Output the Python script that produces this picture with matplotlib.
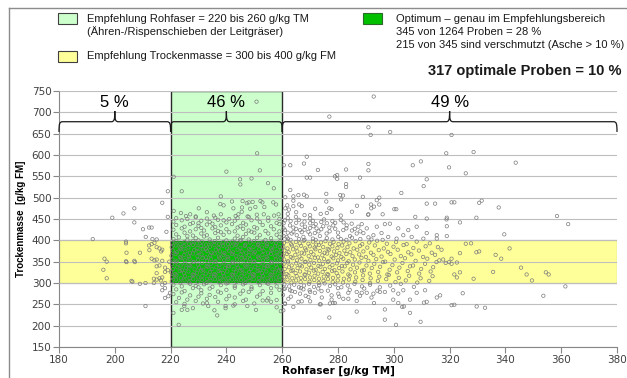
import matplotlib
matplotlib.use("Agg")
import matplotlib.pyplot as plt
from matplotlib.lines import Line2D
from matplotlib.patches import PathPatch, Rectangle
from matplotlib.path import Path

# axis ranges and recommended windows
x_limits = (180, 380)
y_limits = (150, 750)
x_ticks = list(range(180, 381, 20))
y_ticks = list(range(150, 751, 50))
rohfaser_range = (220, 260)
tm_range = (300, 400)

# share of samples per fibre class
brace_spans = [(180, 220), (220, 260), (260, 380)]
brace_labels = ["5 %", "46 %", "49 %"]

# samples below 220 g/kg TM fibre
low_pts = [
    (192.1, 403), (199.1, 453), (203.1, 463), (207.0, 475), (217.0, 488), (219.0, 515),
    (207.0, 442), (210.1, 426), (212.3, 430), (213.2, 430), (211.1, 408), (213.5, 403),
    (215.0, 402), (204.0, 397), (204.0, 393), (212.3, 388), (213.2, 391), (214.2, 394),
    (215.0, 384), (216.0, 381), (217.0, 378), (216.6, 374), (209.0, 371), (212.4, 377),
    (196.3, 357), (197.1, 350), (204.0, 351), (207.0, 352), (213.2, 357), (214.2, 353),
    (215.0, 355), (217.0, 352), (216.0, 341), (215.0, 339), (218.0, 336), (215.0, 323),
    (218.0, 326), (197.1, 311), (206.0, 305), (214.0, 310), (215.0, 308), (216.0, 311),
    (217.0, 313), (216.5, 306), (209.0, 298), (211.0, 300), (214.0, 300), (217.0, 296),
    (218.0, 300), (218.0, 288), (217.0, 283), (218.0, 265), (219.8, 277), (219.2, 269),
    (211.0, 246), (204.2, 371), (204.2, 349), (207.2, 349), (195.9, 331), (219.0, 455),
    (218.5, 420), (219.5, 350), (219.0, 330), (206.3, 303),
]

# samples between 220 and 260 g/kg TM fibre
mid_pts = [
    (250.8, 725), (251.0, 604), (240.0, 561), (252.0, 564), (221.1, 549), (249.0, 545),
    (244.9, 543), (245.0, 531), (254.9, 534), (257.0, 522), (224.0, 515), (238.0, 503),
    (242.0, 491), (245.8, 492), (247.3, 487), (248.0, 489), (249.4, 490), (252.2, 492),
    (252.9, 489), (256.8, 489), (257.8, 484), (237.8, 485), (239.0, 482), (230.1, 475),
    (242.5, 475), (245.6, 477), (248.5, 474), (250.4, 478), (253.6, 478), (221.1, 469),
    (223.7, 464), (227.0, 461), (238.0, 461), (243.3, 457), (244.3, 461), (245.5, 467),
    (247.6, 456), (250.9, 460), (253.4, 461), (257.1, 458), (258.7, 461), (233.0, 466),
    (235.5, 458), (229.0, 456), (225.5, 457),
    (222, 452), (226, 450), (229, 454), (233, 451), (236, 453), (241, 450), (244, 452),
    (248, 455), (251, 451), (255, 453), (259, 450),
    (221, 444), (224, 447), (228, 441), (231, 446), (234, 443), (237, 448), (240, 442),
    (243, 446), (246, 441), (249, 447), (252, 443), (255, 446), (258, 441), (230, 440), (239, 447),
    (222, 436), (225, 432), (227, 438), (230, 434), (233, 437), (236, 431), (238, 435),
    (242, 438), (245, 433), (247, 437), (250, 431), (253, 436), (256, 433), (259, 438),
    (235, 439), (244, 430),
    (221, 425), (224, 428), (227, 421), (229, 426), (232, 423), (235, 428), (237, 422),
    (240, 426), (243, 421), (246, 427), (248, 423), (251, 428), (254, 422), (257, 426),
    (259, 421), (231, 429), (249, 420),
    (222, 414), (225, 418), (228, 411), (231, 416), (233, 412), (236, 417), (239, 413),
    (241, 419), (244, 411), (247, 415), (250, 418), (252, 412), (255, 416), (258, 413),
    (226, 410), (238, 419),
    (221, 403), (223, 407), (226, 401), (229, 405), (232, 409), (234, 402), (237, 406),
    (240, 400), (243, 404), (246, 408), (248, 402), (251, 406), (254, 401), (256, 405),
    (259, 408), (230, 400), (245, 401),
    (220.6, 394), (222.1, 398), (223.5, 391), (225.0, 396), (226.6, 392), (228.1, 399),
    (229.5, 393), (231.2, 397), (232.7, 390), (234.3, 395), (235.8, 398), (237.4, 392),
    (238.9, 396), (240.6, 391), (242.1, 397), (243.7, 393), (245.2, 399), (246.8, 390),
    (248.4, 395), (249.9, 398), (251.5, 392), (253.1, 396), (254.6, 391), (256.2, 397),
    (257.8, 393), (259.3, 398),
    (220.4, 384), (221.9, 388), (223.3, 381), (224.9, 386), (226.4, 383), (228.0, 389),
    (229.6, 382), (231.0, 387), (232.6, 380), (234.1, 385), (235.7, 389), (237.2, 383),
    (238.8, 387), (240.3, 381), (241.9, 386), (243.4, 389), (245.0, 382), (246.6, 387),
    (248.1, 380), (249.7, 385), (251.3, 389), (252.8, 383), (254.4, 387), (256.0, 381),
    (257.5, 386), (259.1, 384),
    (220.8, 376), (222.3, 372), (223.8, 379), (225.3, 374), (226.9, 371), (228.4, 377),
    (230.0, 373), (231.5, 379), (233.1, 375), (234.6, 371), (236.2, 378), (237.7, 374),
    (239.3, 370), (240.9, 376), (242.4, 372), (244.0, 378), (245.5, 374), (247.1, 371),
    (248.6, 377), (250.2, 373), (251.8, 379), (253.3, 375), (254.9, 371), (256.4, 377),
    (258.0, 373), (259.6, 378),
    (220.3, 364), (221.8, 368), (223.4, 361), (224.9, 366), (226.5, 362), (228.0, 369),
    (229.6, 363), (231.1, 367), (232.7, 360), (234.2, 365), (235.8, 369), (237.3, 362),
    (238.9, 366), (240.4, 361), (242.0, 368), (243.5, 363), (245.1, 367), (246.6, 360),
    (248.2, 365), (249.8, 369), (251.3, 362), (252.9, 366), (254.4, 361), (256.0, 368),
    (257.5, 363), (259.1, 367),
    (220.7, 355), (222.2, 351), (223.7, 358), (225.2, 353), (226.8, 357), (228.3, 350),
    (229.9, 354), (231.4, 359), (233.0, 352), (234.5, 356), (236.1, 351), (237.6, 358),
    (239.2, 353), (240.7, 357), (242.3, 350), (243.8, 355), (245.4, 359), (246.9, 352),
    (248.5, 356), (250.0, 351), (251.6, 358), (253.1, 353), (254.7, 357), (256.2, 350),
    (257.8, 355), (259.4, 359),
    (220.5, 344), (222.0, 348), (223.6, 341), (225.1, 346), (226.7, 342), (228.2, 349),
    (229.8, 343), (231.3, 347), (232.9, 340), (234.4, 345), (236.0, 349), (237.5, 342),
    (239.1, 346), (240.6, 340), (242.2, 347), (243.7, 343), (245.3, 348), (246.8, 341),
    (248.4, 345), (249.9, 349), (251.5, 342), (253.0, 346), (254.6, 340), (256.1, 347),
    (257.7, 343), (259.2, 348),
    (220.9, 333), (222.4, 337), (224.0, 330), (225.5, 335), (227.1, 339), (228.6, 332),
    (230.2, 336), (231.7, 331), (233.3, 338), (234.8, 333), (236.4, 337), (237.9, 330),
    (239.5, 335), (241.0, 339), (242.6, 332), (244.1, 336), (245.7, 331), (247.2, 338),
    (248.8, 333), (250.3, 337), (251.9, 330), (253.4, 335), (255.0, 339), (256.5, 332),
    (258.1, 336), (259.6, 331),
    (220.2, 325), (221.7, 321), (223.3, 328), (224.8, 323), (226.4, 327), (227.9, 320),
    (229.5, 324), (231.0, 329), (232.6, 322), (234.1, 326), (235.7, 321), (237.2, 328),
    (238.8, 323), (240.3, 327), (241.9, 320), (243.4, 325), (245.0, 329), (246.5, 322),
    (248.1, 326), (249.6, 321), (251.2, 328), (252.7, 323), (254.3, 327), (255.8, 320),
    (257.4, 325), (258.9, 329),
    (220.6, 314), (222.1, 318), (223.7, 311), (225.2, 316), (226.8, 312), (228.3, 319),
    (229.9, 313), (231.4, 317), (233.0, 310), (234.5, 315), (236.1, 319), (237.6, 312),
    (239.2, 316), (240.7, 311), (242.3, 318), (243.8, 313), (245.4, 317), (246.9, 310),
    (248.5, 315), (250.0, 319), (251.6, 312), (253.1, 316), (254.7, 311), (256.2, 318),
    (257.8, 313), (259.3, 317),
    (220.4, 304), (221.9, 308), (223.5, 301), (225.0, 306), (226.6, 302), (228.1, 309),
    (229.7, 303), (231.2, 307), (232.8, 300), (234.3, 305), (235.9, 309), (237.4, 302),
    (239.0, 306), (240.5, 301), (242.1, 308), (243.6, 303), (245.2, 307), (246.7, 300),
    (248.3, 305), (249.8, 309), (251.4, 302), (252.9, 306), (254.5, 301), (256.0, 308),
    (257.6, 303), (259.1, 307),
    (221, 296), (224, 292), (227, 298), (229, 293), (232, 297), (235, 291), (238, 295),
    (240, 299), (243, 293), (246, 297), (249, 290), (252, 295), (255, 298), (258, 292), (230, 290),
    (222, 285), (225, 281), (228, 288), (231, 283), (234, 287), (237, 280), (240, 284),
    (243, 289), (246, 282), (249, 286), (253, 281), (256, 288), (259, 284),
    (221, 274), (224, 278), (227, 271), (231, 276), (234, 272), (238, 277), (241, 270),
    (245, 275), (248, 279), (252, 273), (256, 277),
    (223, 265), (226, 261), (230, 268), (233, 263), (236, 267), (240, 262), (243, 266),
    (247, 261), (251, 268), (255, 264), (258, 260),
    (222, 255), (225, 251), (229, 258), (233, 253), (237, 256), (243, 250), (246, 258),
    (250, 252), (256, 256),
    (224.9, 246), (224.0, 237), (226.0, 237), (231.6, 252), (233.5, 246), (235.7, 236),
    (236.7, 224), (239.7, 246), (239.7, 241), (242.5, 247), (247.5, 246), (250.6, 237),
    (253.0, 259), (254.5, 259), (259.5, 234), (222.9, 202), (228.0, 241), (221.0, 230),
    (258.0, 243),
]

# samples above 260 g/kg TM fibre
high_pts = [
    (292.8, 737), (276.9, 690), (290.9, 665), (291.7, 647), (298.7, 654), (318.8, 604),
    (320.7, 647), (328.6, 607), (319.8, 571), (325.8, 557), (343.7, 582), (268.8, 596),
    (267.8, 580), (262.9, 576), (260.6, 576), (272.8, 565), (282.9, 566), (290.9, 579),
    (290.9, 564), (306.8, 576), (309.7, 585), (268.8, 547), (270.0, 547), (278.9, 550),
    (279.7, 553), (279.7, 544), (287.9, 547), (311.8, 543), (282.9, 532), (282.9, 525),
    (310.7, 527), (262.9, 518), (267.8, 507), (268.8, 503), (275.8, 509), (280.8, 506),
    (281.8, 505), (302.7, 511), (264.0, 503), (261.1, 501), (288.9, 502), (294.8, 500),
    (293.9, 494), (281.1, 496), (275.8, 491), (264.0, 493), (261.8, 482), (261.1, 475),
    (262.4, 472), (264.0, 480), (266.1, 484), (267.0, 480), (271.8, 474), (273.8, 462),
    (276.9, 475), (277.7, 473), (286.8, 481), (291.8, 484), (292.9, 479), (294.8, 484),
    (291.9, 475), (290.8, 460), (300.2, 473), (300.9, 473), (311.8, 486), (314.8, 486),
    (320.7, 489), (321.7, 489), (330.6, 488), (331.5, 493), (337.6, 477), (265.8, 506),
    (270.0, 459), (290.9, 461), (264.9, 455), (270.0, 451), (307.7, 455), (311.8, 451),
    (319.0, 453), (318.9, 449), (329.6, 453), (323.7, 442), (262.0, 462), (265.0, 466),
    (268.0, 459), (276.0, 464), (281.0, 458), (285.0, 467), (296.0, 461), (358.5, 457),
    (362.5, 438), (339.6, 414),
    (262.8, 435), (261.0, 424), (264.0, 420), (268.2, 432), (271.2, 433), (272.3, 428),
    (274.7, 433), (276.9, 430), (278.3, 435), (283.1, 435), (284.9, 439), (287.3, 432),
    (288.5, 438), (290.3, 428), (293.9, 432), (296.8, 438), (298.6, 439), (301.6, 428),
    (305.2, 424), (308.2, 432), (311.8, 417), (315.4, 412), (319.0, 433), (261.6, 408),
    (265.2, 412), (267.6, 408), (270.0, 414), (273.5, 410), (275.9, 416), (280.1, 408),
    (284.3, 410), (286.7, 416), (290.9, 407), (292.7, 412), (295.6, 417), (298.0, 408),
    (301.0, 404), (303.4, 412), (306.4, 408), (310.6, 404), (315.4, 404), (319.0, 410),
    (261.0, 447), (263.4, 416), (266.4, 424), (269.4, 420), (271.7, 417), (281.9, 424),
    (289.1, 417),
    (260.5, 440), (262.0, 452), (263.0, 445), (265.0, 441), (266.0, 448), (267.0, 437),
    (268.0, 444), (270.0, 440), (271.0, 446), (272.0, 438), (274.0, 443), (275.0, 449),
    (276.0, 440), (278.0, 445), (279.0, 441), (281.0, 448), (282.0, 442), (260.5, 428),
    (262.0, 418), (264.0, 430), (265.0, 427), (267.0, 419), (268.0, 425), (270.0, 429),
    (273.0, 421), (274.0, 426), (277.0, 421), (279.0, 427), (280.0, 418), (283.0, 428),
    (285.0, 423), (286.0, 427), (288.0, 421), (260.5, 410), (262.0, 404), (263.0, 401),
    (266.0, 403), (268.0, 401), (271.0, 404), (272.0, 401), (276.0, 405), (278.0, 402),
    (281.0, 403), (283.0, 401), (285.0, 406), (288.0, 403), (292.0, 402), (296.0, 401),
    (260.6, 394), (261.8, 398), (263.2, 391), (264.9, 396), (266.3, 393), (267.7, 399),
    (269.4, 392), (271.0, 397), (272.2, 390), (273.9, 395), (275.5, 398), (277.1, 392),
    (278.4, 396), (280.2, 391), (282.0, 397), (284.1, 393), (286.3, 398), (288.7, 391),
    (291.2, 395), (294.0, 399), (297.5, 392), (300.8, 396), (304.6, 391), (308.2, 397),
    (312.9, 393),
    (260.4, 385), (261.9, 381), (263.5, 388), (265.1, 383), (266.8, 387), (268.2, 381),
    (269.9, 386), (271.6, 383), (273.1, 389), (274.7, 384), (276.3, 380), (278.0, 386),
    (279.8, 382), (281.5, 388), (283.4, 384), (285.6, 381), (287.9, 387), (290.5, 383),
    (293.2, 388), (296.4, 381), (299.9, 385), (303.5, 389), (307.0, 382), (311.4, 386),
    (315.8, 384),
    (260.8, 376), (262.3, 372), (263.9, 379), (265.4, 374), (267.0, 371), (268.6, 377),
    (270.3, 373), (271.9, 379), (273.5, 375), (275.2, 371), (276.8, 378), (278.6, 374),
    (280.5, 370), (282.3, 376), (284.4, 372), (286.9, 378), (289.1, 374), (291.8, 371),
    (294.6, 377), (297.9, 373), (301.4, 378), (305.2, 372), (309.0, 376), (313.6, 371),
    (317.1, 378),
    (260.3, 364), (261.7, 368), (263.1, 361), (264.7, 366), (266.2, 362), (267.9, 369),
    (269.5, 363), (271.2, 367), (272.8, 360), (274.4, 365), (276.1, 369), (277.7, 362),
    (279.3, 366), (281.2, 361), (283.0, 368), (285.2, 363), (287.6, 367), (290.0, 361),
    (292.7, 366), (295.6, 362), (298.8, 368), (302.5, 363), (306.3, 367), (310.5, 361),
    (314.8, 366),
    (260.7, 355), (262.1, 351), (263.7, 358), (265.3, 353), (266.9, 357), (268.4, 350),
    (270.1, 354), (271.7, 359), (273.3, 352), (275.0, 356), (276.6, 351), (278.3, 358),
    (280.0, 353), (281.9, 357), (283.8, 351), (286.0, 355), (288.4, 359), (290.9, 352),
    (293.7, 356), (296.9, 350), (300.3, 355), (304.0, 358), (307.8, 352), (312.0, 357),
    (316.3, 353),
    (260.5, 344), (262.0, 348), (263.4, 341), (265.0, 346), (266.5, 342), (268.1, 349),
    (269.7, 343), (271.4, 347), (273.0, 340), (274.6, 345), (276.3, 349), (278.0, 342),
    (279.6, 346), (281.4, 340), (283.3, 347), (285.4, 343), (287.7, 348), (290.2, 341),
    (293.0, 345), (296.1, 349), (299.5, 342), (303.1, 347), (306.9, 341), (311.2, 345),
    (315.3, 349),
    (260.9, 333), (262.4, 337), (263.8, 330), (265.5, 335), (267.1, 339), (268.7, 332),
    (270.4, 336), (272.0, 331), (273.7, 338), (275.3, 333), (277.0, 337), (278.7, 330),
    (280.4, 335), (282.4, 339), (284.5, 332), (286.8, 336), (289.3, 330), (292.1, 335),
    (295.1, 338), (298.5, 331), (302.0, 336), (305.8, 339), (309.8, 333), (314.1, 337),
    (260.2, 325), (261.6, 321), (263.3, 328), (264.8, 323), (266.4, 327), (268.0, 320),
    (269.6, 324), (271.3, 329), (272.9, 322), (274.5, 326), (276.2, 321), (277.9, 328),
    (279.5, 323), (281.6, 327), (283.7, 320), (286.1, 325), (288.6, 329), (291.4, 322),
    (294.4, 326), (297.7, 320), (301.2, 325), (305.0, 328), (309.1, 322), (313.2, 327),
    (260.6, 314), (262.2, 318), (263.6, 311), (265.2, 316), (266.7, 312), (268.3, 319),
    (270.0, 313), (271.6, 317), (273.2, 310), (274.9, 315), (276.5, 319), (278.2, 312),
    (280.1, 316), (282.1, 310), (284.2, 317), (286.5, 313), (289.0, 318), (291.7, 311),
    (294.8, 315), (298.2, 319), (301.8, 312), (305.5, 317), (309.6, 311), (313.9, 316),
    (260.4, 304), (261.9, 308), (263.3, 301), (265.0, 306), (266.6, 302), (268.2, 309),
    (269.8, 303), (271.5, 307), (273.1, 300), (274.8, 305), (276.4, 309), (278.1, 302),
    (279.9, 306), (281.8, 301), (283.9, 308), (286.2, 303), (288.8, 307), (291.5, 300),
    (294.3, 305), (297.3, 309), (300.6, 302), (304.3, 306), (308.4, 301), (312.7, 305),
    (325.8, 392), (327.7, 393), (329.6, 372), (330.6, 374), (341.5, 381), (323.7, 370),
    (336.5, 366), (338.5, 357), (317.7, 355), (318.6, 347), (319.8, 349), (320.7, 357),
    (320.7, 345), (322.6, 348), (345.6, 336), (321.7, 320), (322.6, 313), (323.7, 325),
    (328.6, 310), (335.6, 326), (347.6, 320), (349.5, 306), (354.5, 325), (355.5, 320),
    (361.5, 292), (324.7, 276), (353.6, 270), (320.7, 248), (321.7, 249), (329.7, 245),
    (332.7, 242),
    (261.0, 287), (262.8, 283), (264.6, 279), (266.4, 275), (267.6, 285), (270.0, 279),
    (271.7, 277), (274.1, 281), (277.7, 271), (277.7, 261), (280.1, 275), (283.7, 277),
    (283.7, 263), (286.7, 279), (288.5, 277), (290.3, 277), (292.7, 275), (295.0, 279),
    (296.8, 279), (299.8, 283), (301.6, 275), (303.4, 283), (308.2, 277), (311.2, 283),
    (316.6, 271), (273.5, 250), (286.7, 233), (276.9, 219), (296.8, 238), (296.8, 214),
    (300.8, 202), (309.6, 209), (303.0, 244), (305.8, 261), (311.8, 256), (315.4, 266),
    (262.2, 263), (261.0, 252), (264.0, 244), (265.8, 256), (269.4, 267), (278.3, 253),
    (281.9, 263), (286.7, 258), (292.0, 266), (299.8, 261), (260.4, 236),
    (267.0, 257), (270.0, 257), (273.8, 250), (277.1, 252), (278.9, 253), (292.9, 253),
    (301.6, 253), (303.6, 245), (305.8, 230), (310.8, 254), (261.0, 251),
    (260.8, 297), (262.5, 292), (264.3, 296), (266.0, 290), (267.8, 294), (269.6, 298),
    (271.4, 291), (273.3, 295), (275.2, 299), (277.1, 293), (279.0, 297), (281.2, 290),
    (283.5, 294), (285.9, 298), (288.6, 292), (291.5, 296), (295.0, 290), (298.7, 294),
    (302.5, 298), (307.2, 291), (260.5, 286), (263.4, 281), (266.7, 288), (269.8, 283),
    (272.9, 287), (276.4, 282), (280.0, 288), (284.2, 284), (289.4, 287), (294.1, 282),
    (260.3, 272), (263.1, 268), (268.4, 270), (274.2, 266), (280.4, 268), (287.9, 270),
]

W, H = 627, 378
fig = plt.figure(figsize=(W / 100, H / 100), dpi=100)
ax = fig.add_axes([59 / W, 1 - 347 / H, 558 / W, 256 / H])

# recommendation windows
ax.add_patch(Rectangle((x_limits[0], tm_range[0]), x_limits[1] - x_limits[0],
                       tm_range[1] - tm_range[0], facecolor="#FFFF99",
                       edgecolor="#707060", lw=0.8, zorder=1))
ax.add_patch(Rectangle((rohfaser_range[0], y_limits[0]), rohfaser_range[1] - rohfaser_range[0],
                       y_limits[1] - y_limits[0], facecolor="#CCFFCC",
                       edgecolor="#2a2a2a", lw=1.0, zorder=1.1))
ax.add_patch(Rectangle((rohfaser_range[0], tm_range[0]), rohfaser_range[1] - rohfaser_range[0],
                       tm_range[1] - tm_range[0], facecolor="#00C000",
                       edgecolor="#2a2a2a", lw=1.0, zorder=1.2))

for pts in (low_pts, mid_pts, high_pts):
    xs, ys = zip(*pts)
    ax.scatter(xs, ys, s=6, facecolors="none", edgecolors="#7c7c7c",
               linewidths=0.5, zorder=3)

ax.set_xlim(*x_limits)
ax.set_ylim(*y_limits)
ax.set_xticks(x_ticks)
ax.set_yticks(y_ticks)
ax.yaxis.grid(True, color="#BEBEBE", lw=0.8)
ax.set_axisbelow(False)
for side in ("top", "right"):
    ax.spines[side].set_visible(False)
for side in ("left", "bottom"):
    ax.spines[side].set_color("#868686")
    ax.spines[side].set_linewidth(0.8)
ax.tick_params(direction="out", length=4, width=0.8, color="#868686",
               labelsize=7.5, labelcolor="#404040", pad=1.5)
ax.set_xlabel("Rohfaser [g/kg TM]", fontsize=7.5, fontweight="bold", labelpad=1)
ax.set_ylabel("Trockenmasse  [g/kg FM]", fontsize=7, fontweight="bold",
              family="Liberation Sans", labelpad=4)


def brace(x0, x1, yb=678, hook=24, tip=25, dx=1.3):
    m = (x0 + x1) / 2
    verts = [
        (x0, yb - hook),
        (x0, yb - 4), (x0 + 0.2, yb), (x0 + dx, yb),
        (m - dx, yb),
        (m - 0.2, yb), (m, yb + 4), (m, yb + tip),
        (m, yb + 4), (m + 0.2, yb), (m + dx, yb),
        (x1 - dx, yb),
        (x1 - 0.2, yb), (x1, yb - 4), (x1, yb - hook),
    ]
    codes = ([Path.MOVETO] + [Path.CURVE4] * 3 + [Path.LINETO] + [Path.CURVE4] * 6
             + [Path.LINETO] + [Path.CURVE4] * 3)
    ax.add_patch(PathPatch(Path(verts, codes), facecolor="none", edgecolor="#1a1a1a",
                           lw=0.9, zorder=4, clip_on=False))
    return m


for (x0, x1), label in zip(brace_spans, brace_labels):
    m = brace(x0, x1)
    ax.text(m, 723, label, ha="center", va="center", fontsize=12,
            family="Liberation Sans", zorder=5)


# legend and notes at the top of the figure
def fx(px):
    return px / W


def fy(py):
    return 1 - py / H


def swatch(px, py, color, edge):
    fig.add_artist(Rectangle((fx(px), fy(py + 11)), 19 / W, 11 / H, facecolor=color,
                             edgecolor=edge, lw=0.8, transform=fig.transFigure))


txt = dict(fontsize=8, family="Liberation Sans", va="center", ha="left", color="#1a1a1a")
swatch(58, 13, "#CCFFCC", "#404040")
fig.text(fx(87), fy(19), "Empfehlung Rohfaser = 220 bis 260 g/kg TM", **txt)
fig.text(fx(87), fy(32), "(Ähren-/Rispenschieben der Leitgräser)", **txt)
swatch(58, 51, "#FFFF99", "#404040")
fig.text(fx(87), fy(56), "Empfehlung Trockenmasse = 300 bis 400 g/kg FM", **txt)
swatch(363, 13, "#00C000", "#2a6a2a")
fig.text(fx(396), fy(19), "Optimum – genau im Empfehlungsbereich", **txt)
fig.text(fx(396), fy(32), "345 von 1264 Proben = 28 %", **txt)
fig.text(fx(396), fy(45), "215 von 345 sind verschmutzt (Asche > 10 %)", **txt)
fig.text(fx(621), fy(71), "317 optimale Proben = 10 %", fontsize=10.5, fontweight="bold",
         family="Liberation Sans", va="center", ha="right", color="#1a1a1a")

# outer frame
frame = dict(color="#8c8c8c", lw=1.0, transform=fig.transFigure)
fig.add_artist(Line2D([fx(9), fx(9)], [0, fy(8)], **frame))
fig.add_artist(Line2D([fx(9), 1], [fy(8), fy(8)], **frame))

fig.savefig("out.png", dpi=100)
